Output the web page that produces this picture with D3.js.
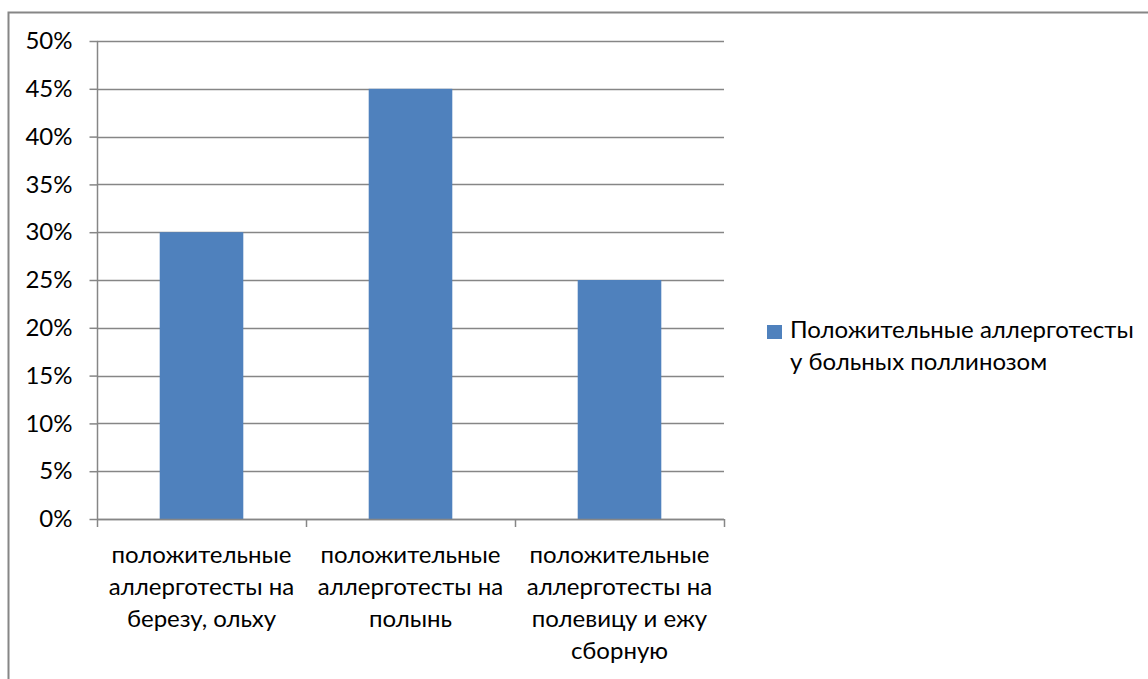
<!DOCTYPE html>
<html>
<head>
<meta charset="utf-8">
<script src="https://cdn.jsdelivr.net/npm/d3@7"></script>
<style>
  html, body { margin: 0; padding: 0; background: #fff; }
  svg { display: block; }
  text { font-family: Lato, "Open Sans", sans-serif; fill: #000; }
</style>
</head>
<body>
<svg id="chart" width="1148" height="679"></svg>
<script>
// Data
const categories = [
  ["положительные", "аллерготесты на", "березу, ольху"],
  ["положительные", "аллерготесты на", "полынь"],
  ["положительные", "аллерготесты на", "полевицу и ежу", "сборную"]
];
const seriesName = ["Положительные аллерготесты", "у больных поллинозом"];
const values = [0.30, 0.45, 0.25];
const yTicks = [0, 0.05, 0.10, 0.15, 0.20, 0.25, 0.30, 0.35, 0.40, 0.45, 0.50];

const svg = d3.select("#chart");
const gridColor = "#868686";
const barColor = "#4F81BD";
const fontSize = 24;

// Chart frame
svg.append("rect")
  .attr("x", 8.5).attr("y", 12.5)
  .attr("width", 1160).attr("height", 700)
  .attr("fill", "none").attr("stroke", gridColor).attr("stroke-width", 2);

const plot = { left: 97, right: 724, top: 41, bottom: 519 };

const x = d3.scaleBand()
  .domain(d3.range(categories.length))
  .range([plot.left, plot.right])
  .paddingInner(0.6).paddingOuter(0.3);

const xOuter = d3.scaleBand()
  .domain(d3.range(categories.length))
  .range([plot.left, plot.right]);

const y = d3.scaleLinear().domain([0, 0.5]).range([plot.bottom, plot.top]);

// Horizontal gridlines
svg.append("g").selectAll("line").data(yTicks).join("line")
  .attr("x1", plot.left).attr("x2", plot.right)
  .attr("y1", d => Math.round(y(d)) + 0.5).attr("y2", d => Math.round(y(d)) + 0.5)
  .attr("stroke", gridColor).attr("stroke-width", 1.5);

// Bars
svg.append("g").selectAll("rect").data(values).join("rect")
  .attr("x", (d, i) => x(i))
  .attr("width", x.bandwidth())
  .attr("y", d => y(d))
  .attr("height", d => y(0) - y(d))
  .attr("fill", barColor);

// Y axis
const yAxis = d3.axisLeft(y).tickValues(yTicks)
  .tickFormat(d3.format(".0%")).tickSize(8).tickPadding(17);
const gy = svg.append("g").attr("transform", `translate(${plot.left + 0.5},0)`).call(yAxis);
gy.select(".domain").attr("stroke", gridColor).attr("stroke-width", 1.5).attr("d", `M0,${plot.top}V${plot.bottom}`);
gy.selectAll(".tick line").attr("stroke", gridColor).attr("stroke-width", 1.5);
gy.selectAll(".tick text").style("font-family", "Lato, sans-serif").style("font-size", fontSize + "px").attr("fill", "#000");

// X axis: ticks at category boundaries
const bounds = d3.range(categories.length + 1).map(i =>
  i < categories.length ? xOuter(i) : xOuter(i - 1) + xOuter.bandwidth());
svg.append("line")
  .attr("x1", plot.left).attr("x2", plot.right)
  .attr("y1", plot.bottom + 0.5).attr("y2", plot.bottom + 0.5)
  .attr("stroke", gridColor).attr("stroke-width", 1.5);
svg.append("g").selectAll("line").data(bounds).join("line")
  .attr("x1", d => Math.round(d) + 0.5).attr("x2", d => Math.round(d) + 0.5)
  .attr("y1", plot.bottom).attr("y2", plot.bottom + 8)
  .attr("stroke", gridColor).attr("stroke-width", 1.5);

// Category labels
const lineH = 32;
svg.append("g").selectAll("text").data(categories).join("text")
  .attr("text-anchor", "middle")
  .style("font-size", fontSize + "px")
  .each(function (lines, i) {
    const cx = xOuter(i) + xOuter.bandwidth() / 2;
    d3.select(this).selectAll("tspan").data(lines).join("tspan")
      .attr("x", cx)
      .attr("y", (d, j) => 563 + j * lineH)
      .text(d => d);
  });

// Legend
const legend = svg.append("g");
legend.append("rect")
  .attr("x", 767).attr("y", 325).attr("width", 15).attr("height", 14)
  .attr("fill", barColor);
legend.append("text")
  .style("font-size", fontSize + "px")
  .selectAll("tspan").data(seriesName).join("tspan")
  .attr("x", 790)
  .attr("y", (d, j) => 338 + j * 31.5)
  .text(d => d);
</script>
</body>
</html>
